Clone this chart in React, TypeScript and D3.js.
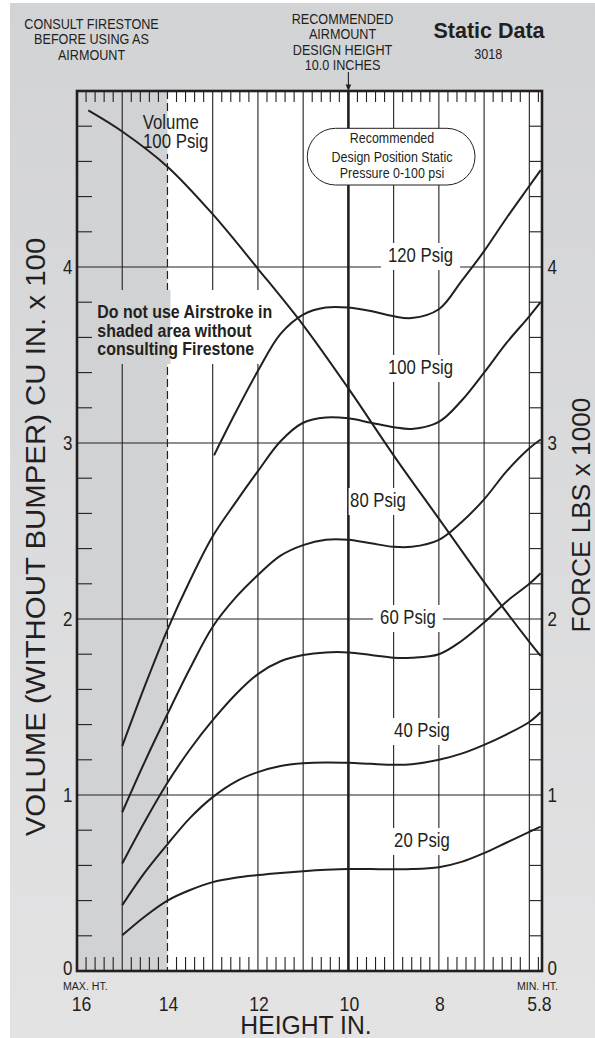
import React from 'react';
import * as d3 from 'd3';

const W = 595;
const H = 1038;

// Height axis (inches) – labelled ticks and full-height grid positions
const heightLabels = [16, 14, 12, 10, 8, 5.8];
const heightGrid = [15, 13, 12, 11, 9, 8, 7, 6];
const valueLabels = [0, 1, 2, 3, 4];
const valueGrid = [1, 2, 3, 4];

// Volume (cu in x 100) at 100 psig
const volumeHeights = [15.75, 15, 14, 13, 12, 11, 10, 9, 8, 7, 6, 5.75];
const volume100 = [4.89, 4.77, 4.57, 4.3, 3.99, 3.67, 3.31, 2.93, 2.57, 2.21, 1.87, 1.79];

// Force (lbs x 1000) by pressure
const forceHeights = [15, 14.5, 14, 13.5, 13, 12.5, 12, 11.5, 11, 10.5, 10, 9.5, 9, 8.6, 8, 7.5, 7, 6.5, 6, 5.75];
const force20 = [0.203, 0.31, 0.4, 0.46, 0.505, 0.53, 0.545, 0.557, 0.567, 0.575, 0.58, 0.579, 0.578, 0.579, 0.59, 0.62, 0.67, 0.73, 0.79, 0.82];
const force40 = [0.374, 0.56, 0.72, 0.87, 0.988, 1.075, 1.13, 1.165, 1.18, 1.185, 1.183, 1.177, 1.172, 1.175, 1.2, 1.235, 1.285, 1.345, 1.415, 1.47];
const force60 = [0.611, 0.85, 1.07, 1.26, 1.425, 1.57, 1.687, 1.76, 1.795, 1.81, 1.81, 1.795, 1.78, 1.78, 1.8, 1.875, 1.98, 2.1, 2.2, 2.26];
const force80 = [0.902, 1.19, 1.46, 1.72, 1.956, 2.12, 2.25, 2.36, 2.42, 2.45, 2.45, 2.43, 2.41, 2.41, 2.45, 2.55, 2.68, 2.84, 2.97, 3.02];
const force100 = [1.278, 1.62, 1.94, 2.22, 2.47, 2.66, 2.84, 3.01, 3.115, 3.145, 3.14, 3.115, 3.09, 3.08, 3.12, 3.24, 3.4, 3.57, 3.72, 3.8];
const force120Heights = [12.97, 12.5, 12, 11.5, 11, 10.5, 10, 9.5, 9, 8.6, 8, 7.5, 7, 6.5, 6, 5.75];
const force120 = [2.93, 3.17, 3.41, 3.62, 3.73, 3.77, 3.77, 3.75, 3.72, 3.71, 3.76, 3.92, 4.09, 4.28, 4.46, 4.55];

const pressureLabels = ['120 Psig', '100 Psig', '80 Psig', '60 Psig', '40 Psig', '20 Psig'];

const INK = '#231f20';
const FONT = "'Liberation Sans', Arial, Helvetica, sans-serif";

const M = { left: 77, right: 542, top: 91, bottom: 971 };

const x = d3.scaleLinear().domain([16, 5.72]).range([M.left, M.right]);
const y = d3.scaleLinear().domain([0, 5]).range([M.bottom, M.top]);

const line = d3
  .line<[number, number]>()
  .x((d) => x(d[0]))
  .y((d) => y(d[1]))
  .curve(d3.curveCatmullRom.alpha(0.5));

const zip = (hs: number[], vs: number[]) => hs.map((h, i) => [h, vs[i]] as [number, number]);

const curves = [
  zip(volumeHeights, volume100),
  zip(forceHeights, force20),
  zip(forceHeights, force40),
  zip(forceHeights, force60),
  zip(forceHeights, force80),
  zip(forceHeights, force100),
  zip(force120Heights, force120),
];

type TProps = {
  x: number;
  y: number;
  size: number;
  sx?: number;
  weight?: string | number;
  anchor?: 'start' | 'middle' | 'end';
  rotate?: number;
  children: React.ReactNode;
};

function T({ x: tx, y: ty, size, sx = 1, weight = 'normal', anchor = 'middle', rotate, children }: TProps) {
  const tf = `translate(${tx},${ty})${rotate ? ` rotate(${rotate})` : ''} scale(${sx},1)`;
  return (
    <text transform={tf} fontSize={size} fontWeight={weight} textAnchor={anchor} fontFamily={FONT} fill={INK}>
      {children}
    </text>
  );
}

// rough advance widths (em) for Arial-metric glyphs used in the pressure labels
const glyphW: Record<string, number> = {
  '0': 0.556, '1': 0.556, '2': 0.556, '4': 0.556, '6': 0.556, '8': 0.556,
  ' ': 0.278, P: 0.667, s: 0.5, i: 0.222, g: 0.556,
};
const textWidth = (s: string, size: number, sx: number) =>
  s.split('').reduce((a, c) => a + (glyphW[c] ?? 0.55), 0) * size * sx;

// label anchor points (center x, baseline y) and left padding of the knock-out panel
const labelPos = [
  { cx: 420.5, base: 262, padL: 7 },
  { cx: 420.5, base: 374, padL: 7 },
  { cx: 378, base: 507, padL: 1.5 },
  { cx: 408, base: 624, padL: 7 },
  { cx: 422, base: 737, padL: 7 },
  { cx: 422, base: 847, padL: 7 },
];

export default function App() {
  const shadeRight = x(14);
  const minorH: number[] = [];
  for (let k = 1; k <= 51; k++) {
    if (k % 5 !== 0) minorH.push(+(16 - 0.2 * k).toFixed(2));
  }
  const minorV: number[] = [];
  for (let k = 1; k < 25; k++) {
    if (k % 5 !== 0) minorV.push(+(0.2 * k).toFixed(2));
  }
  const labelSize = 20.4;
  const labelSx = 0.82;

  return (
    <div style={{ position: 'absolute', left: 0, top: 0 }}>
      <svg width={W} height={H} viewBox={`0 0 ${W} ${H}`} style={{ display: 'block' }}>
        <defs>
          <linearGradient id="pagebg" x1="0" y1="0" x2="0" y2="1">
            <stop offset="0" stopColor="#d2d3d5" />
            <stop offset="1" stopColor="#e3e3e4" />
          </linearGradient>
        </defs>
        <rect x={0} y={0} width={W} height={H} fill="#ffffff" />
        <rect x={10} y={3} width={W - 10} height={H - 3} fill="url(#pagebg)" />

        {/* plot field */}
        <rect x={M.left} y={M.top} width={M.right - M.left} height={M.bottom - M.top} fill="#ffffff" />
        <rect x={M.left} y={M.top} width={shadeRight - M.left} height={M.bottom - M.top} fill="#d1d2d4" />

        {/* grid */}
        {heightGrid.map((h) => (
          <line key={`gv${h}`} x1={x(h)} x2={x(h)} y1={M.top} y2={M.bottom} stroke={INK} strokeWidth={1.1} />
        ))}
        <line x1={x(14)} x2={x(14)} y1={M.top} y2={M.bottom} stroke={INK} strokeWidth={1.2} strokeDasharray="8 4" />
        <line x1={x(10)} x2={x(10)} y1={M.top} y2={M.bottom} stroke={INK} strokeWidth={2.6} />
        {valueGrid.map((v) => (
          <line key={`gh${v}`} x1={M.left} x2={M.right} y1={y(v)} y2={y(v)} stroke={INK} strokeWidth={1.1} />
        ))}

        {/* minor ticks */}
        {minorH.map((h) => (
          <g key={`mh${h}`}>
            <line x1={x(h)} x2={x(h)} y1={M.top} y2={M.top + 11} stroke={INK} strokeWidth={1.1} />
            <line x1={x(h)} x2={x(h)} y1={M.bottom - 14} y2={M.bottom} stroke={INK} strokeWidth={1.1} />
          </g>
        ))}
        {minorV.map((v) => (
          <g key={`mv${v}`}>
            <line x1={M.left} x2={M.left + 15} y1={y(v)} y2={y(v)} stroke={INK} strokeWidth={1.1} />
            <line x1={x(6)} x2={M.right} y1={y(v)} y2={y(v)} stroke={INK} strokeWidth={1.1} />
          </g>
        ))}

        {/* knock-out panels behind in-plot labels */}
        {pressureLabels.map((t, i) => {
          const w = textWidth(t, labelSize, labelSx);
          const p = labelPos[i];
          return (
            <rect key={`ko${t}`} x={p.cx - w / 2 - p.padL} y={p.base - 19} width={w + p.padL + 7} height={27} fill="#ffffff" />
          );
        })}
        <rect x={94} y={290} width={188} height={74} fill="#ffffff" />
        <rect x={94} y={290} width={shadeRight + 3 - 94} height={74} fill="#d1d2d4" />
        <rect x={140} y={112} width={72} height={42} fill="#ffffff" />
        <rect x={140} y={112} width={shadeRight - 140} height={42} fill="#d1d2d4" />

        {/* recommended design position */}
        <rect x={307.3} y={128.3} width={167.7} height={56.7} rx={28.3} fill="#ffffff" stroke={INK} strokeWidth={1} />

        {/* curves */}
        {curves.map((c, i) => (
          <path key={`c${i}`} d={line(c) ?? ''} fill="none" stroke={INK} strokeWidth={2} strokeLinejoin="round" />
        ))}

        {/* frame */}
        <rect x={M.left} y={M.top} width={M.right - M.left} height={M.bottom - M.top} fill="none" stroke={INK} strokeWidth={2.6} />

        {/* design height arrow */}
        <line x1={x(10)} x2={x(10)} y1={72} y2={86} stroke={INK} strokeWidth={1.1} />
        <path d={`M${x(10) - 2.8},${84.5} L${x(10) + 2.8},${84.5} L${x(10)},${91} Z`} fill={INK} />

        {/* pressure labels */}
        {pressureLabels.map((t, i) => (
          <T key={`lb${t}`} x={labelPos[i].cx} y={labelPos[i].base} size={labelSize} sx={labelSx}>
            {t}
          </T>
        ))}
        <T x={142.7} y={129} size={20.5} sx={0.82} anchor="start">Volume</T>
        <T x={143} y={148.3} size={20.5} sx={0.82} anchor="start">100 Psig</T>

        <T x={97.3} y={318.3} size={19} sx={0.84} weight="bold" anchor="start">Do not use Airstroke in</T>
        <T x={97.3} y={336.7} size={19} sx={0.84} weight="bold" anchor="start">shaded area without</T>
        <T x={97.3} y={355} size={19} sx={0.84} weight="bold" anchor="start">consulting Firestone</T>

        <T x={392} y={143.3} size={15} sx={0.83}>Recommended</T>
        <T x={392} y={161.7} size={15} sx={0.83}>Design Position Static</T>
        <T x={392} y={178.3} size={15} sx={0.83}>Pressure 0-100 psi</T>

        {/* header */}
        <T x={91.5} y={28.5} size={14.5} sx={0.87}>CONSULT FIRESTONE</T>
        <T x={91.5} y={44} size={14.5} sx={0.87}>BEFORE USING AS</T>
        <T x={91.5} y={59.5} size={14.5} sx={0.87}>AIRMOUNT</T>

        <T x={342.5} y={24} size={14.5} sx={0.87}>RECOMMENDED</T>
        <T x={342.5} y={39.3} size={14.5} sx={0.87}>AIRMOUNT</T>
        <T x={342.5} y={54.6} size={14.5} sx={0.87}>DESIGN HEIGHT</T>
        <T x={342.5} y={70} size={14.5} sx={0.87}>10.0 INCHES</T>

        <T x={489} y={38} size={21.5} weight="bold">Static Data</T>
        <T x={488.3} y={59.3} size={14} sx={0.9}>3018</T>

        {/* value axis labels */}
        {valueLabels.map((v) => {
          const base = v === 0 ? y(v) + 4 : y(v) + 6.8;
          return (
            <g key={`vl${v}`}>
              <T x={72.5} y={base} size={19.5} sx={0.87} anchor="end">{String(v)}</T>
              <T x={547.5} y={base} size={19.5} sx={0.87} anchor="start">{String(v)}</T>
            </g>
          );
        })}

        {/* height axis labels */}
        {heightLabels.map((h, i) => (
          <T key={`hl${h}`} x={x(h) + (i === 0 ? 4.5 : 1)} y={1010.7} size={20} sx={0.88}>
            {String(h)}
          </T>
        ))}
        <T x={63} y={990} size={11.5} sx={0.92} anchor="start">MAX. HT.</T>
        <T x={558} y={990} size={11.5} sx={0.92} anchor="end">MIN. HT.</T>

        {/* axis titles */}
        <T x={306} y={1034} size={25.5} sx={0.97}>HEIGHT IN.</T>
        <T x={45} y={537} size={28} sx={1.05} rotate={-90}>VOLUME (WITHOUT BUMPER) CU IN. x 100</T>
        <T x={589.5} y={515} size={26} sx={1.01} rotate={-90}>FORCE LBS x 1000</T>
      </svg>
    </div>
  );
}
